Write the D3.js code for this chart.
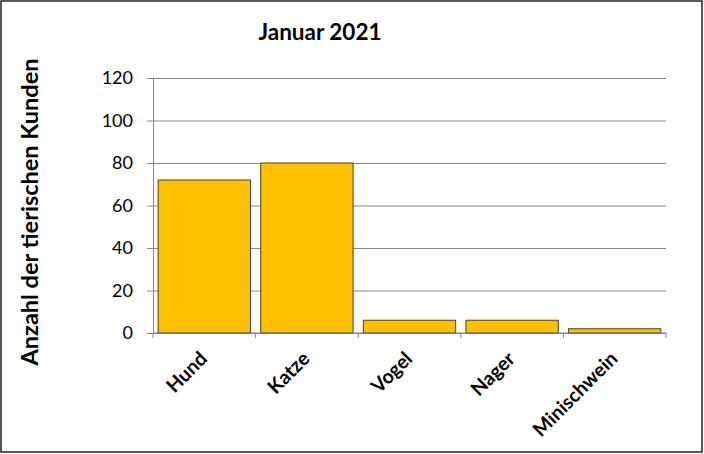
<!DOCTYPE html>
<html>
<head>
<meta charset="utf-8">
<script src="https://cdn.jsdelivr.net/npm/d3@7"></script>
<style>
  body { margin: 0; background: #fff; }
  text { font-family: Lato, "Open Sans", sans-serif; fill: #000; }
</style>
</head>
<body>
<div id="chart"></div>
<script>
// data
const categories = ["Hund", "Katze", "Vogel", "Nager", "Minischwein"];
const counts = [72, 80, 6, 6, 2];
const yTicks = [0, 20, 40, 60, 80, 100, 120];
const chartTitle = "Januar 2021";
const yTitle = "Anzahl der tierischen Kunden";

const svg_width = 704, svg_height = 454;
const margin = { top: 78, right: 38, bottom: 121, left: 153 };
const width = svg_width - margin.left - margin.right;
const height = svg_height - margin.top - margin.bottom;

const svg = d3.select("#chart").append("svg")
  .attr("width", svg_width)
  .attr("height", svg_height);

// outer frame
svg.append("rect")
  .attr("x", 1).attr("y", 1)
  .attr("width", svg_width - 3).attr("height", svg_height - 3)
  .attr("fill", "none").attr("stroke", "#222").attr("stroke-width", 1.5);

const g = svg.append("g").attr("transform", `translate(${margin.left},${margin.top})`);

const x = d3.scaleBand().domain(categories).range([0, width]).paddingInner(0.1).paddingOuter(0.05);
const xBounds = d3.scaleBand().domain(categories).range([0, width]);
const y = d3.scaleLinear().domain([0, 120]).range([height, 0]);

// gridlines
g.append("g")
  .call(d3.axisLeft(y).tickValues(yTicks).tickSize(-width).tickFormat(""))
  .call(s => s.select(".domain").remove())
  .selectAll("line").attr("stroke", "#868686");

// bars
g.selectAll("rect.bar")
  .data(counts)
  .enter().append("rect")
  .attr("class", "bar")
  .attr("x", (d, i) => x(categories[i]))
  .attr("y", d => y(d))
  .attr("width", x.bandwidth())
  .attr("height", d => y(0) - y(d))
  .attr("fill", "#FFC000")
  .attr("stroke", "#4d4020")
  .attr("stroke-width", 1);

// y axis
const yAxis = g.append("g")
  .call(d3.axisLeft(y).tickValues(yTicks).tickSize(6).tickPadding(14));
yAxis.select(".domain").attr("stroke", "#868686");
yAxis.selectAll("line").attr("stroke", "#868686");
yAxis.selectAll("text").attr("font-size", "18px").style("font-family", "Lato, sans-serif");

// x axis with ticks at category boundaries
const xAxis = g.append("g").attr("transform", `translate(0,${height})`);
xAxis.append("line").attr("x1", 0).attr("x2", width).attr("stroke", "#868686");
xAxis.selectAll("line.tk")
  .data(categories.concat(["end"]))
  .enter().append("line")
  .attr("class", "tk")
  .attr("x1", (d, i) => i < categories.length ? xBounds(d) : width)
  .attr("x2", (d, i) => i < categories.length ? xBounds(d) : width)
  .attr("y1", 0).attr("y2", 5)
  .attr("stroke", "#868686");
xAxis.selectAll("text")
  .data(categories)
  .enter().append("text")
  .attr("transform", d => `translate(${xBounds(d) + xBounds.bandwidth() / 2 + 4},${27}) rotate(-45)`)
  .attr("text-anchor", "end")
  .attr("font-size", "19.5px")
  .attr("font-weight", "bold")
  .text(d => d);

// titles
svg.append("text")
  .attr("x", 320).attr("y", 40)
  .attr("text-anchor", "middle")
  .attr("font-size", "22.5px")
  .attr("font-weight", "bold")
  .text(chartTitle);

svg.append("text")
  .attr("transform", "translate(38,212) rotate(-90)")
  .attr("text-anchor", "middle")
  .attr("font-size", "23.5px")
  .attr("font-weight", "bold")
  .text(yTitle);
</script>
</body>
</html>
